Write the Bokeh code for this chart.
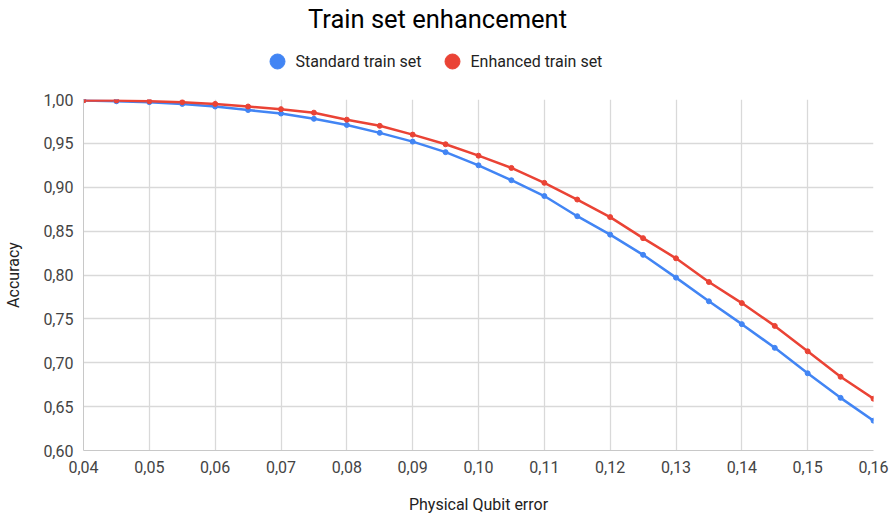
from bokeh.plotting import figure
from bokeh.layouts import column
from bokeh.models import (ColumnDataSource, FixedTicker, CustomJSTickFormatter,
                          Range1d, Label)
from bokeh.embed import file_html
from bokeh.resources import INLINE

# Physical qubit error rates (x) and classification accuracy (y)
qubit_error = [0.040, 0.045, 0.050, 0.055, 0.060, 0.065, 0.070, 0.075, 0.080,
               0.085, 0.090, 0.095, 0.100, 0.105, 0.110, 0.115, 0.120, 0.125,
               0.130, 0.135, 0.140, 0.145, 0.150, 0.155, 0.160]
standard_acc = [0.999, 0.998, 0.997, 0.995, 0.992, 0.988, 0.984, 0.978, 0.971,
                0.962, 0.952, 0.940, 0.925, 0.908, 0.890, 0.867, 0.846, 0.823,
                0.797, 0.770, 0.744, 0.717, 0.688, 0.660, 0.634]
enhanced_acc = [0.999, 0.999, 0.998, 0.997, 0.995, 0.992, 0.989, 0.985, 0.977,
                0.970, 0.960, 0.949, 0.936, 0.922, 0.905, 0.886, 0.866, 0.842,
                0.819, 0.792, 0.768, 0.742, 0.713, 0.684, 0.659]
series_names = ["Standard train set", "Enhanced train set"]
x_ticks = [0.04, 0.05, 0.06, 0.07, 0.08, 0.09, 0.10, 0.11, 0.12, 0.13, 0.14, 0.15, 0.16]
y_ticks = [0.60, 0.65, 0.70, 0.75, 0.80, 0.85, 0.90, 0.95, 1.00]
chart_title = "Train set enhancement"

BLUE = "#4285F4"
RED = "#EA4335"
GRID = "#d9d9d9"
FONT = "Roboto"
W = 895
FRAME_L, FRAME_R = 83, 873      # plot area edges in page pixels
HEADER_H = 90
BODY_H = 521 - HEADER_H
BODY_TOP = 9

# ---- header strip: title and legend.  Its frame lines up with the chart's
# frame, so the x range is given in page pixels; y grows downward.
head = figure(width=W, height=HEADER_H, output_backend="svg", toolbar_location=None,
              x_range=Range1d(FRAME_L, FRAME_R), y_range=Range1d(HEADER_H, 0),
              min_border=0, x_axis_type=None, y_axis_type=None)
head.grid.visible = False
head.outline_line_color = None

head.add_layout(Label(x=437, y=18, text=chart_title, text_align="center",
                      text_baseline="middle", text_font=FONT,
                      text_font_size="25.5px", text_color="#000000"))

legend_x = [277, 452]
legend_y = 61
for cx, name, col in zip(legend_x, series_names, [BLUE, RED]):
    head.scatter([cx], [legend_y], size=15, color=col)
    head.add_layout(Label(x=cx + 18, y=legend_y, text=name, text_align="left",
                          text_baseline="middle", text_font=FONT,
                          text_font_size="16px", text_color="#222222"))

# ---- main chart
src = ColumnDataSource(dict(x=qubit_error, std=standard_acc, enh=enhanced_acc))

p = figure(width=W, height=BODY_H, output_backend="svg", toolbar_location=None,
           x_range=Range1d(0.04, 0.16), y_range=Range1d(0.60, 1.00),
           min_border_left=FRAME_L, min_border_right=W - FRAME_R,
           min_border_top=BODY_TOP, min_border_bottom=71)
p.outline_line_color = None

fmt = CustomJSTickFormatter(code="return tick.toFixed(2).replace('.', ',');")

for ax, ticks in ((p.xaxis[0], x_ticks), (p.yaxis[0], y_ticks)):
    ax.ticker = FixedTicker(ticks=ticks)
    ax.formatter = fmt
    ax.major_tick_out = 0
    ax.major_tick_in = 0
    ax.minor_tick_out = 0
    ax.minor_tick_in = 0
    ax.major_tick_line_color = None
    ax.minor_tick_line_color = None
    ax.axis_line_color = "#c8c8c8"
    ax.axis_line_width = 1
    ax.major_label_text_font = FONT
    ax.major_label_text_font_size = "16px"
    ax.major_label_text_color = "#444444"
    ax.axis_label_text_font = FONT
    ax.axis_label_text_font_size = "16px"
    ax.axis_label_text_font_style = "normal"
    ax.axis_label_text_color = "#222222"

p.xaxis.axis_label = "Physical Qubit error"
p.xaxis.major_label_standoff = 10
p.xaxis.axis_label_standoff = 19
p.yaxis.axis_label = "Accuracy"
p.yaxis.major_label_standoff = 10
p.yaxis.axis_label_standoff = 17

p.xgrid.ticker = FixedTicker(ticks=x_ticks)
p.ygrid.ticker = FixedTicker(ticks=y_ticks)
for g in (p.xgrid[0], p.ygrid[0]):
    g.grid_line_color = GRID
    g.grid_line_width = 1.3

p.line("x", "std", source=src, line_color=BLUE, line_width=2.5)
p.line("x", "enh", source=src, line_color=RED, line_width=2.5)
p.scatter("x", "std", source=src, size=5, color=BLUE)
p.scatter("x", "enh", source=src, size=5, color=RED)

layout = column(head, p, spacing=0)
open("out.html", "w").write(file_html(layout, INLINE))
